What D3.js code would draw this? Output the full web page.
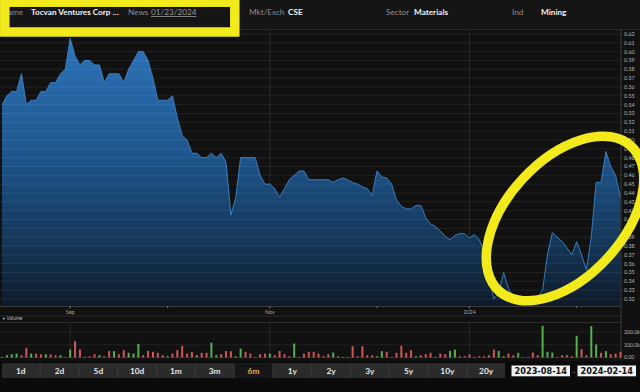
<!DOCTYPE html>
<html><head><meta charset="utf-8">
<script src="https://cdn.jsdelivr.net/npm/d3@7"></script>
<style>html,body{margin:0;padding:0;background:#0b0b0b;overflow:hidden}svg{display:block}</style>
</head><body><svg id="c" width="640" height="392"></svg>
<script>
// ---------- data ----------
const startDate = "2023-08-14";
const endDate = "2024-02-14";
const holidays = ["2023-09-04","2023-10-09","2023-12-25","2023-12-26","2024-01-01"];
const prices = [
0.540,0.550,0.555,0.555,0.575,0.540,0.545,0.545,0.555,0.555,
0.565,0.565,0.575,0.580,0.615,0.595,0.585,0.590,0.590,0.585,
0.585,0.565,0.575,0.575,0.575,0.565,0.580,0.590,0.600,0.600,
0.590,0.570,0.545,0.545,0.545,0.550,0.525,0.505,0.500,0.485,
0.485,0.480,0.480,0.485,0.480,0.485,0.475,0.415,0.435,0.480,
0.480,0.480,0.480,0.460,0.450,0.450,0.445,0.435,0.445,0.455,
0.460,0.465,0.465,0.455,0.455,0.455,0.455,0.455,0.452,0.455,
0.457,0.455,0.452,0.450,0.447,0.445,0.437,0.465,0.458,0.457,
0.450,0.432,0.425,0.422,0.422,0.426,0.426,0.412,0.405,0.402,
0.397,0.391,0.387,0.392,0.394,0.394,0.389,0.393,0.387,0.375,
0.345,0.320,0.327,0.350,0.332,0.322,0.320,0.320,0.320,0.320,
0.322,0.330,0.370,0.395,0.390,0.385,0.378,0.370,0.385,0.370,
0.353,0.390,0.452,0.452,0.487,0.470,0.460,0.435];
const volumes = [ // thousands of shares
5,18,26,31,18,76,31,31,24,26,
24,18,18,5,63,129,63,5,10,26,
18,10,50,50,26,58,37,31,108,18,
52,45,37,18,10,31,58,92,31,45,
18,37,37,116,18,26,50,50,10,71,
45,31,5,26,31,31,18,52,26,10,
110,5,31,45,45,31,10,26,39,10,
5,5,89,10,89,18,18,10,50,45,
5,37,92,37,58,10,18,26,37,5,
31,26,52,63,10,10,24,5,10,10,
18,63,52,10,31,18,37,3,3,39,
18,249,45,39,5,18,18,10,171,66,
18,247,102,37,50,26,31,45];
const volumeDir = [
"u","u","u","u","d","d","u","d","d","u",
"d","d","u","d","u","d","d","u","d","d",
"u","d","d","u","d","d","u","u","u","d",
"d","d","d","d","u","d","d","d","d","d",
"u","d","d","u","u","d","d","d","u","u",
"d","d","d","d","d","u","d","d","d","d",
"u","d","d","d","d","d","d","d","u","u",
"u","d","d","d","d","d","d","u","u","d",
"d","d","d","d","d","u","d","d","d","u",
"d","d","u","u","d","d","d","d","d","d",
"d","d","u","u","d","d","u","d","d","d",
"d","u","u","u","d","d","d","d","u","d",
"d","u","u","d","u","d","d","d"];
const priceTicks = [0.32,0.33,0.34,0.35,0.36,0.37,0.38,0.39,0.40,0.41,0.42,0.43,0.44,0.45,0.46,0.47,0.48,0.49,0.50,0.51,0.52,0.53,0.54,0.55,0.56,0.57,0.58,0.59,0.60,0.61,0.62];
const volumeTicks = [0, 100000, 200000];
const volumeTickLabels = ["0.00","100.0k","200.0k"];
const majorMonths = ["2023-09","2023-11","2024-01"];
const majorLabels = ["Sep","Nov","2024"];
const minorMonths = ["2023-10","2023-12","2024-02"];
const ranges = ["1d","2d","5d","10d","1m","3m","6m","1y","2y","3y","5y","10y","20y"];
const activeRange = "6m";
const headerLabels = ["ame","News","Mkt/Exch","Sector","Ind"];
const headerValues = ["Tocvan Ventures Corp …","01/23/2024","CSE","Materials","Mining"];

// ---------- trading days ----------
const fmt = d3.timeFormat("%Y-%m-%d");
const parse = d3.timeParse("%Y-%m-%d");
const days = d3.timeDay.range(parse(startDate), d3.timeDay.offset(parse(endDate),1))
  .filter(d => d.getDay()!==0 && d.getDay()!==6 && !holidays.includes(fmt(d)))
  .map(fmt);
const data = days.map((d,i)=>({date:d, price:prices[i], vol:volumes[i]*1000, dir:volumeDir[i]}));
const firstOfMonth = m => days.find(d => d.startsWith(m));

// ---------- layout ----------
const svg = d3.select("#c");
const W = 640, H = 392;
const plot = {l:0, r:621, t:29, b:306};
const volP = {t:322.5, b:357.5};

svg.append("rect").attr("width",W).attr("height",H).attr("fill","#0b0b0b");
svg.append("rect").attr("x",0).attr("y",0).attr("width",W).attr("height",28).attr("fill","#151515");
svg.append("rect").attr("x",0).attr("y",28).attr("width",W).attr("height",333).attr("fill","#111111");

const x = d3.scalePoint().domain(days).range([2, 620.5]);
const y = d3.scaleLinear().domain([0.32, 0.62]).range([299, 34]);
const yv = d3.scaleLinear().domain([0, 200000]).range([volP.b, volP.b - 25.4]);

const defs = svg.append("defs");
const g = defs.append("linearGradient").attr("id","ag").attr("gradientUnits","userSpaceOnUse")
  .attr("x1",0).attr("x2",0).attr("y1",plot.t).attr("y2",plot.b);
g.append("stop").attr("offset",0).attr("stop-color","#2e76bd");
g.append("stop").attr("offset",0.45).attr("stop-color","#1e568d");
g.append("stop").attr("offset",0.8).attr("stop-color","#133353");
g.append("stop").attr("offset",1).attr("stop-color","#0e1a28");
defs.append("clipPath").attr("id","pc").append("rect")
  .attr("x",plot.l).attr("y",plot.t).attr("width",plot.r-plot.l).attr("height",plot.b-plot.t);

// vertical grid (major months)
majorMonths.forEach(m=>{
  const xx = x(firstOfMonth(m));
  svg.append("line").attr("x1",xx).attr("x2",xx).attr("y1",plot.t).attr("y2",plot.b).attr("stroke","#282828");
  svg.append("line").attr("x1",xx).attr("x2",xx).attr("y1",volP.t).attr("y2",volP.b).attr("stroke","#282828");
});

// area + line
const area = d3.area().x(d=>x(d.date)).y0(plot.b).y1(d=>y(d.price));
const line = d3.line().x(d=>x(d.date)).y(d=>y(d.price));
const pg = svg.append("g").attr("clip-path","url(#pc)");
pg.append("path").datum(data).attr("d",area).attr("fill","url(#ag)");
pg.append("path").datum(data).attr("d",line).attr("fill","none").attr("stroke","#3a86cc").attr("stroke-width",0.9);

// horizontal grid on top
priceTicks.forEach(t=>{
  svg.append("line").attr("x1",plot.l).attr("x2",plot.r).attr("y1",y(t)).attr("y2",y(t))
    .attr("stroke","#ffffff").attr("stroke-opacity",0.09).attr("stroke-width",0.8);
});
svg.append("line").attr("x1",0).attr("x2",W).attr("y1",plot.t+0.5).attr("y2",plot.t+0.5).attr("stroke","#2c2c2c");

// right axis
svg.append("line").attr("x1",plot.r).attr("x2",plot.r).attr("y1",plot.t).attr("y2",volP.b+2).attr("stroke","#3a3a3a");
const ya = svg.append("g").attr("font-family","Lato, 'DejaVu Sans', sans-serif").attr("font-size",5.4).attr("fill","#b5b5b5");
priceTicks.forEach(t=>{
  ya.append("text").attr("x",624).attr("y",y(t)).attr("dy","0.35em").text(t.toFixed(2));
});

// bottom axis
svg.append("line").attr("x1",0).attr("x2",plot.r).attr("y1",plot.b+0.5).attr("y2",plot.b+0.5).attr("stroke","#3a3a3a");
const xa = svg.append("g").attr("font-family","Lato, 'DejaVu Sans', sans-serif").attr("font-size",5.4).attr("fill","#a8a8a8");
majorMonths.forEach((m,i)=>{
  const xx = x(firstOfMonth(m));
  svg.append("line").attr("x1",xx).attr("x2",xx).attr("y1",plot.b).attr("y2",plot.b+2.5).attr("stroke","#777");
  xa.append("text").attr("x",xx).attr("y",314).attr("text-anchor","middle").text(majorLabels[i]);
});
minorMonths.forEach(m=>{
  const xx = x(firstOfMonth(m));
  svg.append("line").attr("x1",xx).attr("x2",xx).attr("y1",plot.b).attr("y2",plot.b+2).attr("stroke","#777");
});
svg.append("line").attr("x1",0).attr("x2",plot.r).attr("y1",316).attr("y2",316).attr("stroke","#2a2a2a");
svg.append("rect").attr("x",3).attr("y",317.8).attr("width",1.6).attr("height",1.6).attr("fill","#bbb");
svg.append("text").attr("x",6.5).attr("y",320.3).attr("font-family","Lato, sans-serif").attr("font-size",4.8).attr("fill","#bbb").text("Volume");
svg.append("line").attr("x1",0).attr("x2",plot.r).attr("y1",volP.t).attr("y2",volP.t).attr("stroke","#2e2e2e");

// volume grid + bars
volumeTicks.forEach((t,i)=>{
  svg.append("line").attr("x1",0).attr("x2",plot.r).attr("y1",yv(t)).attr("y2",yv(t))
    .attr("stroke","#ffffff").attr("stroke-opacity",i===0?0.12:0.07);
  svg.append("text").attr("x",624).attr("y",yv(t)).attr("dy","0.35em").attr("font-family","Lato, sans-serif")
    .attr("font-size",5.2).attr("fill","#b5b5b5").text(volumeTickLabels[i]);
});
svg.append("g").selectAll("rect").data(data).join("rect")
  .attr("x",d=>x(d.date)-1).attr("width",2)
  .attr("y",d=>yv(d.vol)).attr("height",d=>yv(0)-yv(d.vol))
  .attr("fill",d=>d.dir==="u"?"#56b04e":"#cf5752");

// range buttons
const bx = d3.scaleBand().domain(ranges).range([2, 505]).paddingInner(0.03);
svg.append("rect").attr("x",2).attr("y",363.5).attr("width",503).attr("height",14.5).attr("fill","#3a3a3a");
ranges.forEach(r=>{
  const act = r===activeRange;
  svg.append("rect").attr("x",bx(r)).attr("y",363.5).attr("width",bx.bandwidth()).attr("height",14.5)
    .attr("fill",act?"#161616":"#2b2b2b");
  svg.append("text").attr("x",bx(r)+bx.bandwidth()/2).attr("y",373.7).attr("text-anchor","middle")
    .attr("font-family","Lato, 'DejaVu Sans', sans-serif").attr("font-weight","bold").attr("font-size",8.4)
    .attr("fill",act?"#e6b449":"#e6e6e6").text(r);
});
// date boxes
[[startDate,511.5,570],[endDate,577.5,636]].forEach(([t,a,b])=>{
  svg.append("rect").attr("x",a).attr("y",365.5).attr("width",b-a).attr("height",10.8).attr("fill","#f4f4f4");
  svg.append("text").attr("x",(a+b)/2).attr("y",374).attr("text-anchor","middle")
    .attr("font-family","'DejaVu Sans', sans-serif").attr("font-weight","bold").attr("font-size",8.2)
    .attr("fill","#111").text(t);
});
svg.append("text").attr("x",573.8).attr("y",373.5).attr("text-anchor","middle").attr("font-family","sans-serif")
  .attr("font-size",7).attr("fill","#888").text("-");

// header
const hx = [[8,31],[128,151],[249,288],[386,414],[512,541]];
const ht = svg.append("g").attr("font-family","Lato, 'DejaVu Sans', sans-serif").attr("font-size",8.2);
headerLabels.forEach((lab,i)=>{
  ht.append("text").attr("x",hx[i][0]).attr("y",15).attr("fill","#8c8c8c").text(lab);
  const v = ht.append("text").attr("x",hx[i][1]).attr("y",15).text(headerValues[i]);
  if(i===1){ v.attr("fill","#9a9a9a").attr("text-decoration","underline"); }
  else { v.attr("fill","#f2f2f2").attr("font-weight","bold"); }
});

// annotations (yellow highlights)
svg.append("rect").attr("x",4.8).attr("y",2.2).attr("width",230).attr("height",29.8)
  .attr("fill","none").attr("stroke","#f2ea1b").attr("stroke-width",9.5);
svg.append("ellipse").attr("cx",0).attr("cy",0).attr("rx",98).attr("ry",58)
  .attr("transform","translate(565,218.5) rotate(-47.6)")
  .attr("fill","none").attr("stroke","#f2ea1b").attr("stroke-width",9.5);
</script></body></html>
